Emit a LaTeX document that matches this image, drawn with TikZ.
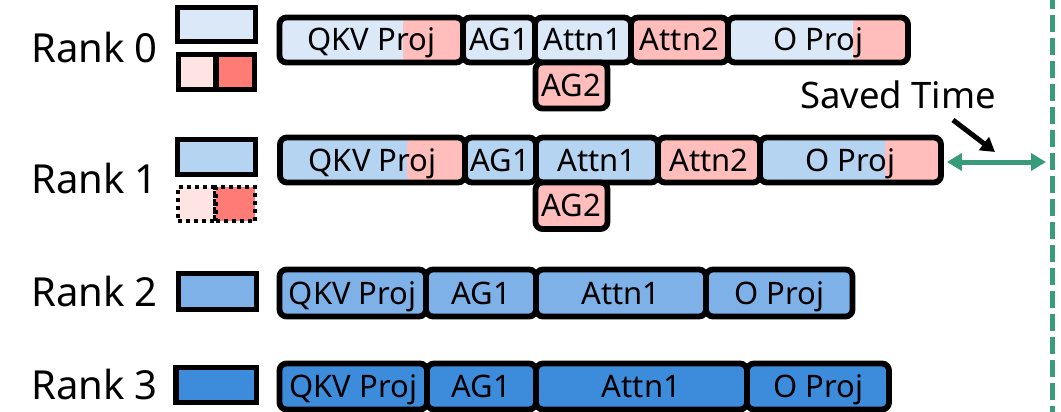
\documentclass[tikz,border=0pt]{standalone}
\usepackage{fontspec}
\setmainfont{Noto Sans}
\usepackage{xcolor}
\usepackage{tikz}
\usetikzlibrary{arrows.meta}
\definecolor{rankA}{HTML}{DAE8F7}
\definecolor{rankB}{HTML}{B5D4F1}
\definecolor{rankC}{HTML}{7EB1E8}
\definecolor{rankD}{HTML}{3D8CDC}
\definecolor{commfill}{HTML}{FFBDBB}
\definecolor{lightred}{HTML}{FFE4E4}
\definecolor{darkred}{HTML}{FF7B76}
\definecolor{savedgreen}{HTML}{3A9B7A}
\tikzstyle{op} = [rectangle, draw, line width=5.8pt, rounded corners=7pt, inner sep=0pt, font=\fontsize{31}{31}\selectfont, text height=22pt, text depth=0pt]
\tikzstyle{legend} = [rectangle, draw, line width=5.5pt, inner sep=0pt]
\tikzstyle{rank} = [inner sep=0pt, anchor=base east, font=\fontsize{40}{40}\selectfont]
\tikzstyle{saved} = [draw=savedgreen, line width=5pt, {Triangle[length=15pt,width=17pt]}-{Triangle[length=15pt,width=17pt]}]
\tikzstyle{pointer} = [draw, line width=5pt, -{Triangle[length=14pt,width=16pt]}]
\tikzstyle{limit} = [draw=savedgreen, line width=5pt, dash pattern=on 17pt off 6pt, dash phase=8pt]
% blue part on the left, comm part from #2 onwards
\tikzset{half/.style 2 args={preaction={fill=#1, path picture={\fill[commfill] ([xshift=#2]path picture bounding box.south west) rectangle (path picture bounding box.north east);}}}}

\begin{document}
\begin{tikzpicture}[x=1pt, y=-1pt]
		\useasboundingbox (0,0) rectangle (1061,412);
		% Rank labels
		\node [rank] (r0) at (158,63) {Rank 0};
		\node [rank] (r1) at (158,193) {Rank 1};
		\node [rank] (r2) at (158,306) {Rank 2};
		\node [rank] (r3) at (158,399) {Rank 3};
		% Legend boxes
		\node [legend, fill=rankA, minimum width=78, minimum height=34] (lg0) at (216.5,24.5) {};
		\node [legend, fill=lightred, minimum width=37.5, minimum height=35] (lg0a) at (197.25,72) {};
		\node [legend, fill=darkred, minimum width=38.5, minimum height=35] (lg0b) at (235.25,72) {};
		\node [legend, fill=rankB, minimum width=78, minimum height=35] (lg1) at (216.5,157) {};
		\node [legend, line width=4.5pt, dash pattern=on 4pt off 4pt, fill=lightred, minimum width=37.5, minimum height=34] (lg1a) at (196.75,204) {};
		\node [legend, line width=4.5pt, dash pattern=on 4pt off 4pt, fill=darkred, minimum width=39.5, minimum height=34] (lg1b) at (235.25,204) {};
		\node [legend, fill=rankC, minimum width=78, minimum height=36] (lg2) at (217.5,291.5) {};
		\node [legend, fill=rankD, minimum width=80.5, minimum height=35] (lg3) at (216.25,385) {};
		% Rank 0
		\node [op, half={rankA}{123.5}, minimum width=183.5, minimum height=45] (q0) at (371.25,40) {QKV Proj};
		\node [op, fill=rankA, minimum width=72, minimum height=45] (ag0) at (499,40) {AG1};
		\node [op, fill=rankA, minimum width=96, minimum height=45] (at0) at (583,40) {Attn1};
		\node [op, fill=commfill, minimum width=97, minimum height=45] (bt0) at (679.5,40) {Attn2};
		\node [op, half={rankA}{125}, minimum width=180, minimum height=45] (o0) at (818,40) {O Proj};
		\node [op, fill=commfill, minimum width=72, minimum height=46] (agb0) at (571.5,85.5) {AG2};
		% Rank 1
		\node [op, half={rankB}{127}, minimum width=185, minimum height=45] (q1) at (372.5,160) {QKV Proj};
		\node [op, fill=rankB, minimum width=71, minimum height=45] (ag1) at (500.5,160) {AG1};
		\node [op, fill=rankB, minimum width=122, minimum height=45] (at1) at (597,160) {Attn1};
		\node [op, fill=commfill, minimum width=102, minimum height=45] (bt1) at (709,160) {Attn2};
		\node [op, half={rankB}{125}, minimum width=181, minimum height=45] (o1) at (850.5,160) {O Proj};
		\node [op, fill=commfill, minimum width=72, minimum height=46.5] (agb1) at (571.5,205.75) {AG2};
		% Rank 2
		\node [op, fill=rankC, minimum width=146.5, minimum height=47] (q2) at (352.75,293) {QKV Proj};
		\node [op, fill=rankC, minimum width=110, minimum height=47] (ag2) at (481,293) {AG1};
		\node [op, fill=rankC, minimum width=170, minimum height=47] (at2) at (621,293) {Attn1};
		\node [op, fill=rankC, minimum width=146.5, minimum height=47] (o2) at (779.25,293) {O Proj};
		% Rank 3
		\node [op, fill=rankD, minimum width=147.5, minimum height=46] (q3) at (353.25,386.5) {QKV Proj};
		\node [op, fill=rankD, minimum width=109, minimum height=46] (ag3) at (481.5,386.5) {AG1};
		\node [op, fill=rankD, minimum width=211, minimum height=46] (at3) at (641.5,386.5) {Attn1};
		\node [op, fill=rankD, minimum width=142, minimum height=46] (o3) at (818,386.5) {O Proj};
		% Saved time
		\node [inner sep=0pt, anchor=base, font=\fontsize{36.5}{36.5}\selectfont] (st) at (898,108) {Saved Time};
		\coordinate (top) at (1052,0);
		\coordinate (bottom) at (1052,412);
		\coordinate (end) at (1046,162);
		\coordinate (ptr) at (953,120);
		\coordinate (gap) at (995,152);
		% Draw edges
		\path [limit] (top) -- (bottom);
		\path [saved] ([xshift=3]o1.east |- end) -- (end);
		\path [pointer] (ptr) -- (gap);
	\end{tikzpicture}
\end{document}
